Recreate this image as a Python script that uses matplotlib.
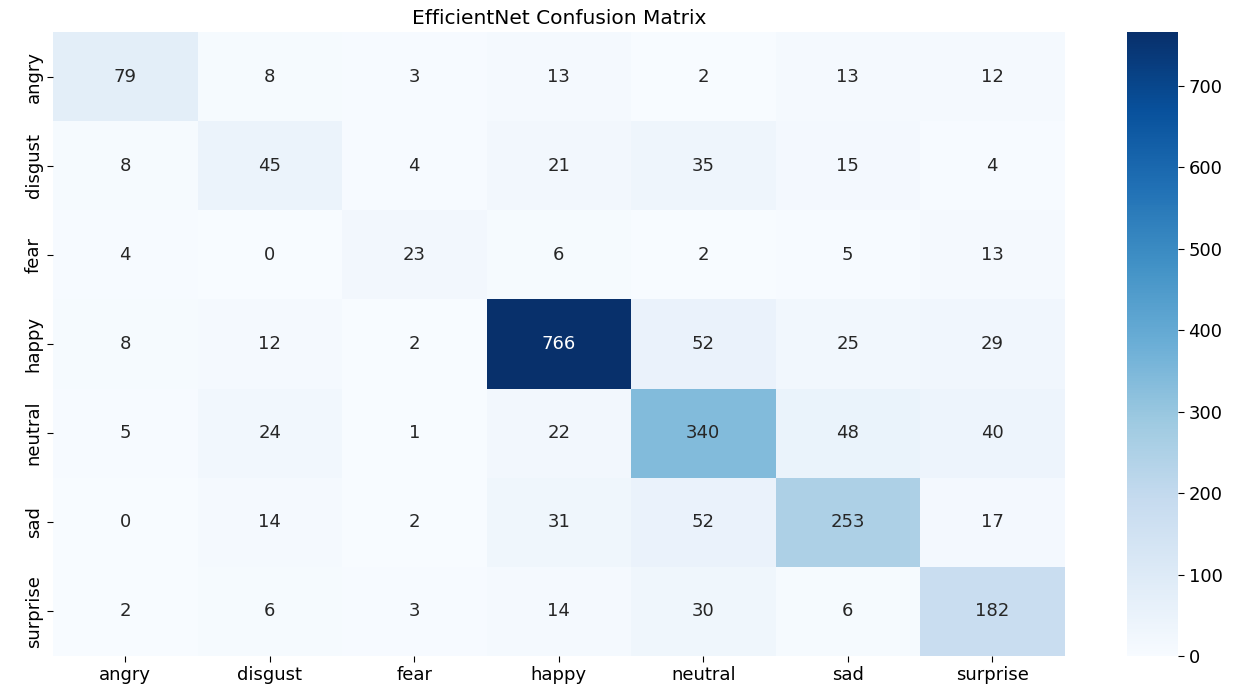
import numpy as np
import matplotlib
matplotlib.use('Agg')
import matplotlib.pyplot as plt
import seaborn as sns

labels = ['angry', 'disgust', 'fear', 'happy', 'neutral', 'sad', 'surprise']
cm = np.array([
    [79, 8, 3, 13, 2, 13, 12],
    [8, 45, 4, 21, 35, 15, 4],
    [4, 0, 23, 6, 2, 5, 13],
    [8, 12, 2, 766, 52, 25, 29],
    [5, 24, 1, 22, 340, 48, 40],
    [0, 14, 2, 31, 52, 253, 17],
    [2, 6, 3, 14, 30, 6, 182],
])

fig = plt.figure(figsize=(12.48, 6.88), dpi=100)
ax = fig.add_axes([0.0425, 0.0465, 0.8105, 0.907])
cax = fig.add_axes([0.903, 0.0465, 0.041, 0.907])

# seaborn picks white text on the dark cell, dark grey elsewhere
sns.heatmap(cm, annot=True, fmt='d', cmap='Blues', ax=ax, cbar_ax=cax,
            xticklabels=labels, yticklabels=labels,
            annot_kws={'fontsize': 13})

ax.set_title('EfficientNet Confusion Matrix', fontsize=14.5, pad=6)
ax.tick_params(axis='x', labelsize=13, length=4)
ax.tick_params(axis='y', labelsize=13, length=4)
plt.setp(ax.get_yticklabels(), rotation=90, va='center')
cax.tick_params(labelsize=13, length=4)

plt.savefig('out.png', dpi=100)
